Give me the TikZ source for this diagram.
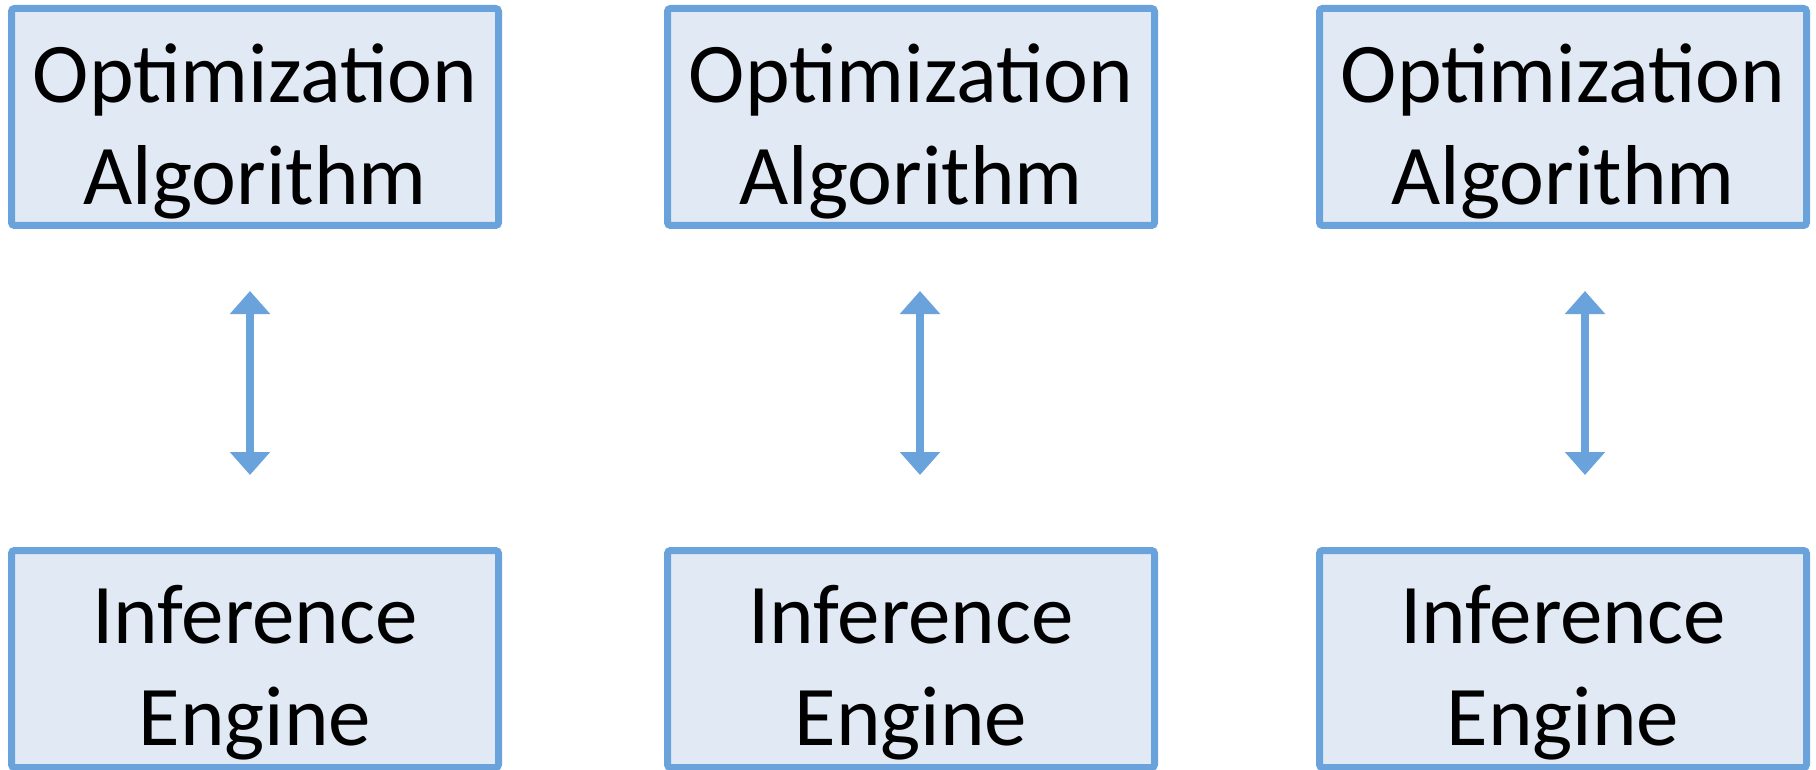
\documentclass[tikz,border=0pt]{standalone}
\usepackage{fontspec}
\setmainfont{Carlito}
\usetikzlibrary{arrows.meta}
\definecolor{boxline}{RGB}{106,163,220}
\definecolor{boxfill}{RGB}{225,233,244}
\tikzset{
  block/.style={draw=boxline, fill=boxfill, line width=7pt, rounded corners=3pt,
    minimum width=487pt, minimum height=217pt, inner sep=0pt},
  lbl/.style={align=center, inner sep=0pt, text=black,
    font=\fontsize{85}{102}\selectfont},
  link/.style={draw=boxline, line width=7.5pt,
    {Triangle[length=23pt,width=39pt]}-{Triangle[length=23pt,width=39pt]}}
}
\begin{document}
\begin{tikzpicture}[x=1pt,y=-1pt]
  \useasboundingbox (0,0) rectangle (1816,770);
  % three columns: optimizer on top, engine below
  \foreach \i/\cx/\ax in {1/255/250, 2/911/920, 3/1563/1585} {
    \node[block] (opt\i) at (\cx,117) {};
    \node[lbl] (optl\i) at ([yshift=-14pt]opt\i.center) {Optimization\\Algorithm};
    \node[block] (eng\i) at (\cx,659) {};
    \node[lbl] (engl\i) at ([yshift=-14pt]eng\i.center) {Inference\\Engine};
    \coordinate (up\i) at (\ax,291);
    \coordinate (dn\i) at (\ax,475);
    \draw[link] (up\i) -- (dn\i);
  }
\end{tikzpicture}
\end{document}
